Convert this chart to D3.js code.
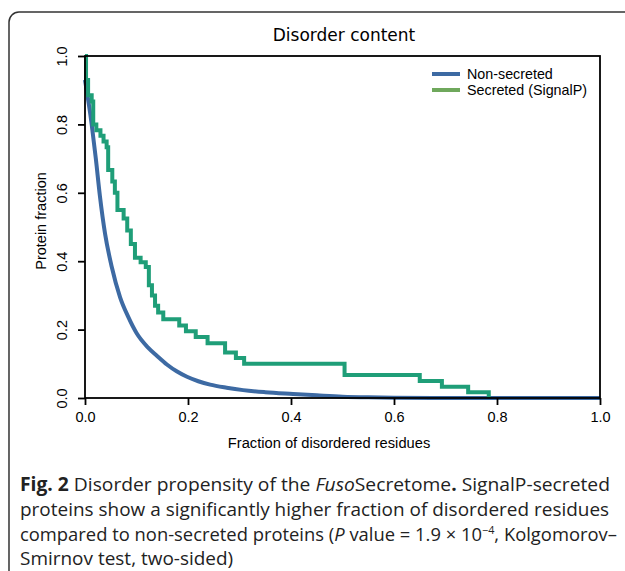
<!DOCTYPE html>
<html>
<head>
<meta charset="utf-8">
<script src="https://cdn.jsdelivr.net/npm/d3@7"></script>
<style>
  body { margin: 0; background: #fff; }
  svg { display: block; }
</style>
</head>
<body>
<svg width="625" height="571"></svg>
<script>
// non-secreted: smooth survival curve (fraction of proteins with disorder >= x)
var nonSecX = [0, 0.013, 0.021, 0.029, 0.039, 0.052, 0.068, 0.084, 0.1, 0.122, 0.14, 0.159, 0.178,
  0.198, 0.22, 0.243, 0.275, 0.307, 0.35, 0.404, 0.45, 0.5, 0.55, 0.6, 0.7, 1.0];
var nonSecY = [0.93, 0.80, 0.70, 0.59, 0.48, 0.383, 0.295, 0.237, 0.19, 0.148, 0.123, 0.098, 0.078,
  0.062, 0.049, 0.039, 0.03, 0.023, 0.017, 0.012, 0.008, 0.004, 0.002, 0.001, 0, 0];

// secreted (SignalP): step curve
var secX = [0, 0.002, 0.006, 0.013, 0.016, 0.022, 0.030, 0.036, 0.042, 0.045, 0.053, 0.058, 0.063,
  0.075, 0.082, 0.089, 0.097, 0.108, 0.118, 0.124, 0.130, 0.136, 0.142, 0.152, 0.183, 0.196, 0.215,
  0.238, 0.272, 0.293, 0.309, 0.504, 0.650, 0.693, 0.744, 0.784];
var secY = [1.0, 0.93, 0.885, 0.867, 0.80, 0.783, 0.767, 0.75, 0.733, 0.667, 0.633, 0.60, 0.55,
  0.525, 0.49, 0.45, 0.41, 0.397, 0.383, 0.33, 0.30, 0.27, 0.25, 0.23, 0.212, 0.195, 0.178,
  0.16, 0.133, 0.117, 0.10, 0.067, 0.05, 0.033, 0.017, 0];

var tickVals = [0, 0.2, 0.4, 0.6, 0.8, 1.0];
var legendLabels = ["Non-secreted", "Secreted (SignalP)"];
var legendColors = ["#3d6aa3", "#6fa85c"];

var svg = d3.select("svg"),
  margin = {top: 56, right: 25, bottom: 173, left: 85},
  width = +svg.attr("width") - margin.left - margin.right,
  height = +svg.attr("height") - margin.top - margin.bottom;

var x = d3.scaleLinear().domain([0, 1]).range([margin.left, margin.left + width]);
var y = d3.scaleLinear().domain([0, 1]).range([margin.top + height, margin.top]);

// outer figure frame (rounded corner at top-left, runs off the page)
svg.append("rect")
  .attr("x", 9).attr("y", 12)
  .attr("width", 640).attr("height", 580)
  .attr("rx", 10)
  .attr("fill", "none")
  .attr("stroke", "#333")
  .attr("stroke-width", 1.5);

// title
svg.append("text")
  .attr("x", 344).attr("y", 41)
  .style("text-anchor", "middle")
  .style("font-family", "DejaVu Sans")
  .style("font-size", "17px")
  .text("Disorder content");

var line = d3.line()
  .x(function(d) { return x(d[0]); })
  .y(function(d) { return y(d[1]); });

svg.append("path")
  .datum(d3.zip(nonSecX, nonSecY))
  .attr("fill", "none")
  .attr("stroke", "#3d6aa3")
  .attr("stroke-width", 4)
  .attr("stroke-linejoin", "round")
  .attr("d", line.curve(d3.curveMonotoneX));

svg.append("path")
  .datum(d3.zip(secX, secY))
  .attr("fill", "none")
  .attr("stroke", "#1f9e78")
  .attr("stroke-width", 4)
  .attr("d", line.curve(d3.curveStepAfter));

// box
svg.append("rect")
  .attr("x", x(0)).attr("y", y(1))
  .attr("width", x(1) - x(0)).attr("height", y(0) - y(1))
  .attr("fill", "none")
  .attr("stroke", "#000")
  .attr("stroke-width", 1.8);

var xAxis = d3.axisBottom(x).tickValues(tickVals).tickFormat(d3.format(".1f")).tickSize(7).tickPadding(7),
  yAxis = d3.axisLeft(y).tickValues(tickVals).tickFormat(d3.format(".1f")).tickSize(7).tickPadding(4);

var gx = svg.append("g")
  .attr("transform", "translate(0," + y(0) + ")")
  .call(xAxis);
var gy = svg.append("g")
  .attr("transform", "translate(" + x(0) + ",0)")
  .call(yAxis);

[gx, gy].forEach(function(g) {
  g.select(".domain").remove();
  g.selectAll("line").attr("stroke", "#000").attr("stroke-width", 1.8);
  g.selectAll("text")
    .attr("fill", "#000")
    .style("font-family", "Liberation Sans")
    .style("font-size", "14.5px");
});

gy.selectAll(".tick text")
  .attr("x", null).attr("dy", null)
  .attr("transform", "translate(-18,0) rotate(-90)")
  .style("text-anchor", "middle");

//text label for X-axis
svg.append("text")
  .attr("x", 329).attr("y", 448)
  .style("text-anchor", "middle")
  .style("font-family", "Liberation Sans")
  .style("font-size", "14.7px")
  .text("Fraction of disordered residues");

//text label for Y-axis
svg.append("text")
  .attr("transform", "translate(46,221) rotate(-90)")
  .style("text-anchor", "middle")
  .style("font-family", "Liberation Sans")
  .style("font-size", "14.5px")
  .text("Protein fraction");

// legend
var legend = svg.append("g");
legendLabels.forEach(function(lab, i) {
  var ly = 74 + i * 16;
  legend.append("line")
    .attr("x1", 432).attr("x2", 460)
    .attr("y1", ly).attr("y2", ly)
    .attr("stroke", legendColors[i])
    .attr("stroke-width", 4);
  legend.append("text")
    .attr("x", 467).attr("y", ly + 5)
    .style("font-family", "Liberation Sans")
    .style("font-size", "14.3px")
    .text(lab);
});

// caption: lines 1-3 squeezed to their width in the figure, line 4 uses line 2's squeeze
var cap = svg.append("g")
  .style("font-family", "Open Sans")
  .style("font-size", "18.7px")
  .attr("fill", "#222");

var capY = [491, 516, 541, 565];
var capW = [590, 589, 597, null];
var capTexts = capY.map(function(yy) {
  return cap.append("g").append("text").attr("x", 0).attr("y", 0);
});

capTexts[0].append("tspan").style("font-weight", "bold").text("Fig. 2");
capTexts[0].append("tspan").text(" Disorder propensity of the ");
capTexts[0].append("tspan").style("font-style", "italic").text("Fuso");
capTexts[0].append("tspan").text("Secretome");
capTexts[0].append("tspan").style("font-weight", "bold").text(".");
capTexts[0].append("tspan").text(" SignalP-secreted");

capTexts[1].text("proteins show a significantly higher fraction of disordered residues");

capTexts[2].append("tspan").text("compared to non-secreted proteins (");
capTexts[2].append("tspan").style("font-style", "italic").text("P");
capTexts[2].append("tspan").text(" value = 1.9 \u00d7 10");
capTexts[2].append("tspan").attr("dy", -7).style("font-size", "11px").text("\u22124");
capTexts[2].append("tspan").attr("dy", 7).text(", Kolgomorov\u2013");

capTexts[3].text("Smirnov test, two-sided)");

var sx2 = capW[1] / capTexts[1].node().getComputedTextLength();
capTexts.forEach(function(t, i) {
  var s = capW[i] ? capW[i] / t.node().getBBox().width : sx2;
  d3.select(t.node().parentNode)
    .attr("transform", "translate(20," + capY[i] + ") scale(" + s + ",1)");
});
</script>
</body>
</html>
